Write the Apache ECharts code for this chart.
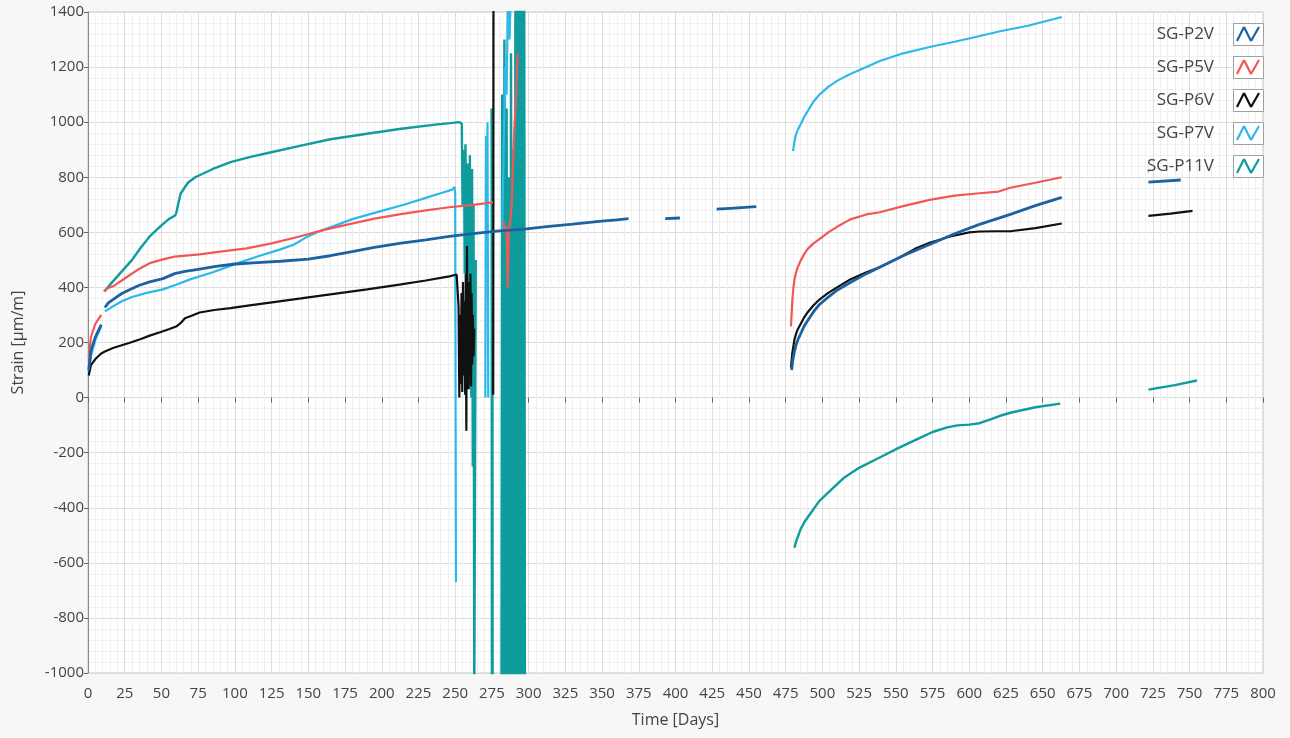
<!DOCTYPE html>
<html>
<head>
<meta charset="utf-8">
<title>Strain gauges – vertical strain over time</title>
<script src="https://cdn.jsdelivr.net/npm/echarts@6/dist/echarts.min.js"></script>
<style>
  html, body { margin: 0; padding: 0; background: #f7f7f7; }
  #chart { width: 1290px; height: 738px; }
</style>
</head>
<body>
<div id="chart"></div>
<script>
// Strain readings [day, µm/m]; a '-' value breaks the line (no data logged).
const p2v = [
  [0.5, 100], [2, 170], [5, 220], [9, 265], [10, '-'],
  [11.5, 327], [14, 345], [17, 356], [23, 378], [29, 393], [35, 408], [42, 420], [51, 432], [59, 450],
  [66, 458], [74, 465], [87, 476], [100, 485], [115, 490], [131, 495], [150, 503], [165, 515], [178, 528],
  [195, 545], [212, 560], [230, 573], [246, 585], [262, 595], [280, 605], [297, 612], [314, 622],
  [330, 630], [348, 640], [360, 645], [368, 650], [380, '-'],
  [393, 650], [403, 652], [415, '-'],
  [428, 684], [440, 688], [455, 693], [470, '-'],
  [479, 100], [480, 140], [481, 168], [482, 190], [483.5, 212], [485, 229], [487.5, 258], [490, 280],
  [494, 312], [498, 338], [504, 365], [510, 390], [519, 418], [530, 450], [539, 473], [555, 515],
  [573, 556], [590, 595], [607, 629], [628, 665], [645, 697], [663, 727], [690, '-'],
  [722, 782], [744, 790]
];

const p5v = [
  [0.5, 150], [2, 220], [5, 268], [9, 300], [10, '-'],
  [11, 385], [13, 396], [17, 404], [23, 425], [29, 447], [35, 468], [42, 488], [51, 502], [59, 512],
  [76, 520], [90, 530], [108, 542], [125, 560], [144, 585], [160, 608], [178, 630], [195, 650],
  [212, 665], [230, 680], [246, 691], [262, 700], [275.7, 709], [278, '-'],
  [283, 640], [284, 600], [285, 620], [285.8, 400], [286.5, 600], [287.5, 640], [288.5, 700],
  [289.5, 880], [290.5, 1000], [291.5, 1100], [292.5, 1250], [293, '-'],
  [478.6, 258], [479.5, 350], [480.3, 400], [481, 429], [482, 452], [483, 470], [485, 495],
  [487.5, 520], [490, 540], [494, 560], [498, 575], [504, 600], [510, 620], [519, 647], [530, 665],
  [539, 673], [555, 695], [573, 718], [590, 733], [607, 742], [620, 748], [628, 762], [645, 780],
  [663, 800], [690, '-'],
  [721.5, 822], [722.5, 822]
];

const p6v = [
  [0.5, 80], [2, 118], [5, 140], [9, 160], [11.5, 167], [17, 180], [23, 190], [29, 200], [36, 213],
  [42, 225], [49, 237], [55, 248], [60, 258], [63, 270], [66, 288], [71, 298], [76, 309], [86, 318],
  [97, 325], [110, 335], [124, 345], [145, 360], [165, 375], [190, 393], [212, 410], [230, 425],
  [246, 440], [251, 447],
  [252, 440], [252.3, 330], [252.8, 0], [253.3, 300], [253.8, 50], [254.3, 380], [254.8, 20],
  [255.3, 420], [255.8, 80], [256.3, 350], [256.8, 10], [257.2, 450], [257.6, -120], [258, 550],
  [258.4, 60], [258.8, 400], [259.2, 30], [259.6, 420], [260, 100], [260.4, 450], [260.8, 40],
  [261.2, 380], [261.6, 120], [262, 300], [262.5, 150], [263, 250], [265, '-'],
  [275.9, 10], [276.1, 1600], [278, '-'],
  [478.6, 109], [479.5, 160], [481, 211], [482, 230], [483, 245], [485, 265], [487.5, 290],
  [490, 310], [494, 335], [498, 356], [504, 380], [510, 400], [519, 429], [530, 455], [539, 473],
  [553, 510], [563, 540], [573, 562], [587, 585], [600, 600], [607, 603], [618, 604], [628, 604],
  [645, 615], [663, 632], [690, '-'],
  [722, 660], [737, 668], [752, 678]
];

const p7v = [
  [0.5, 90], [2, 150], [5, 210], [9, 258], [10, '-'],
  [11.5, 313], [17, 331], [23, 350], [30, 365], [40, 380], [51, 393], [60, 410], [70, 430], [85, 455],
  [103, 490], [117, 515], [131, 538], [140, 555], [148, 580], [156, 600], [165, 618], [180, 648],
  [200, 678], [215, 700], [230, 725], [240, 742], [248, 755], [249.5, 765], [250, 740], [250.5, -670],
  [251, '-'],
  [270.5, 0], [271, 950], [271.5, 700], [272, 1000], [272.5, 0], [273, '-'],
  [282, 600], [283, 900], [284, 1200], [285, 1100], [286, 1500], [287, 1300], [288, 1500], [289, '-'],
  [480, 895], [481, 930], [482, 955], [483.5, 975], [485, 990], [487.5, 1018], [490, 1040],
  [494, 1075], [498, 1100], [504, 1128], [510, 1150], [519, 1175], [530, 1200], [539, 1222],
  [555, 1250], [573, 1273], [590, 1292], [605, 1310], [621, 1330], [640, 1350], [663, 1382]
];

const p11v = [
  [11, 385], [15, 410], [20, 440], [25, 470], [30, 500], [36, 545], [42, 585], [50, 625], [55, 648],
  [59, 660], [60, 668], [63, 740], [68, 780], [73, 800], [85, 830], [97, 855], [110, 873], [124, 890],
  [145, 915], [165, 938], [190, 958], [212, 975], [235, 990], [253, 1000], [254.5, 995],
  [255, 700], [256, 900], [256.5, 450], [257, 920], [258, 300], [258.5, 850], [259.5, 100],
  [260, 880], [261, 0], [261.5, 830], [262, -250], [262.5, 700], [263, -1100], [264, 500], [265, '-'],
  [274.8, 1050], [275, -1100], [275.3, 900], [275.5, -1100], [276, '-'],
  [281.5, -1100], [282, 1100], [283, -1100], [283.5, 1300], [284.5, -1100], [285, 1050],
  [286, -1100], [286.5, 800], [287.5, -1100], [288, 1250], [289, -1100], [289.5, 900],
  [290.5, -1100], [291, 1500], [292, -1100], [292.5, 1500], [293.5, -1100], [294, 1500],
  [295, -1100], [295.5, 1500], [296.5, -1100], [297, 1500], [297.5, -1100], [298, '-'],
  [481, -545], [482, -525], [483, -510], [485, -480], [488, -450], [492, -420], [498, -375],
  [505, -340], [515, -290], [525, -255], [540, -215], [553, -180], [565, -150], [575, -125],
  [585, -108], [592, -101], [600, -98], [607, -93], [614, -80], [621, -66], [628, -55], [645, -35],
  [662, -22], [690, '-'],
  [722, 29], [740, 45], [755, 62]
];

const seriesNames = ['SG-P2V', 'SG-P5V', 'SG-P6V', 'SG-P7V', 'SG-P11V'];
const seriesColors = ['#1d62a0', '#f25757', '#111111', '#2cb9e9', '#0f9c9c'];
const seriesWidths = [2.8, 2.2, 2.2, 2.2, 2.4];
const seriesData = [p2v, p5v, p6v, p7v, p11v];

// Zig-zag legend glyph built from three thin strokes; the tiny corner dots keep
// a margin inside its 30x22 box.
const zigzag = 'path://M0 0L0.2 0L0 0.2Z M30 22L29.8 22L30 21.8Z ' +
  'M4.98 18.49L11.98 4.49L10.02 3.51L3.02 17.51Z ' +
  'M10.02 4.49L17.02 18.49L18.98 17.51L11.98 3.51Z ' +
  'M18.95 18.55L26.95 4.55L25.05 3.45L17.05 17.45Z';

const chart = echarts.init(document.getElementById('chart'), null, { renderer: 'canvas' });

// Draw the teal trace first so the others sit above it.
const drawOrder = [4, 3, 2, 1, 0];
const series = drawOrder.map(i => ({
  name: seriesNames[i],
  type: 'line',
  data: seriesData[i],
  showSymbol: false,
  symbol: 'none',
  connectNulls: false,
  clip: true,
  lineStyle: { color: seriesColors[i], width: seriesWidths[i] },
  itemStyle: { color: seriesColors[i] },
  animation: false
}));

// Grey frames behind the legend glyphs.
const legendTop = 23, legendItemH = 22, legendGap = 11, legendIconW = 30, legendRightX = 1263;
const frames = seriesNames.map((n, k) => ({
  type: 'rect',
  z: 3,
  shape: { x: legendRightX - legendIconW + 0.5, y: legendTop + k * (legendItemH + legendGap) + 0.5, width: legendIconW, height: legendItemH },
  style: { fill: '#ffffff', stroke: '#a0a0a0', lineWidth: 1 }
}));

chart.setOption({
  backgroundColor: '#f7f7f7',
  animation: false,
  textStyle: { fontFamily: '"Open Sans", "Noto Sans", sans-serif' },
  grid: {
    left: 88, right: 27, top: 12, bottom: 65,
    show: true, backgroundColor: '#ffffff', borderColor: '#c4c4c4', borderWidth: 1
  },
  legend: {
    data: seriesNames,
    orient: 'vertical',
    right: 27,
    top: legendTop,
    padding: 0,
    align: 'right',
    itemWidth: legendIconW,
    itemHeight: legendItemH,
    itemGap: legendGap,
    icon: zigzag,
    textStyle: { color: '#444', fontSize: 17, padding: [6, 14, 0, 0] },
    selectedMode: false
  },
  graphic: frames,
  xAxis: {
    type: 'value',
    min: 0, max: 800, interval: 25,
    offset: 8,
    name: 'Time [Days]',
    nameLocation: 'middle',
    nameGap: 31,
    nameTextStyle: { color: '#444', fontSize: 16 },
    axisLine: { show: false },
    axisTick: { show: true, length: 5, lineStyle: { color: '#666' } },
    axisLabel: { color: '#444', fontSize: 15, margin: 5 },
    splitLine: { show: true, lineStyle: { color: '#dcdcdc', width: 1 } },
    minorTick: { show: false, splitNumber: 5 },
    minorSplitLine: { show: true, lineStyle: { color: '#f0f0f0', width: 1 } }
  },
  yAxis: {
    type: 'value',
    min: -1000, max: 1400, interval: 200,
    name: 'Strain [µm/m]',
    nameLocation: 'middle',
    nameGap: 62,
    nameTextStyle: { color: '#444', fontSize: 16 },
    axisLine: { show: true, lineStyle: { color: '#8a8a8a', width: 1 } },
    axisTick: { show: true, length: 4, lineStyle: { color: '#666' } },
    axisLabel: { color: '#444', fontSize: 15, margin: 4, formatter: v => String(v) },
    splitLine: { show: true, lineStyle: { color: '#dcdcdc', width: 1 } },
    minorTick: { show: false, splitNumber: 5 },
    minorSplitLine: { show: true, lineStyle: { color: '#f0f0f0', width: 1 } }
  },
  series: series
});
</script>
</body>
</html>
